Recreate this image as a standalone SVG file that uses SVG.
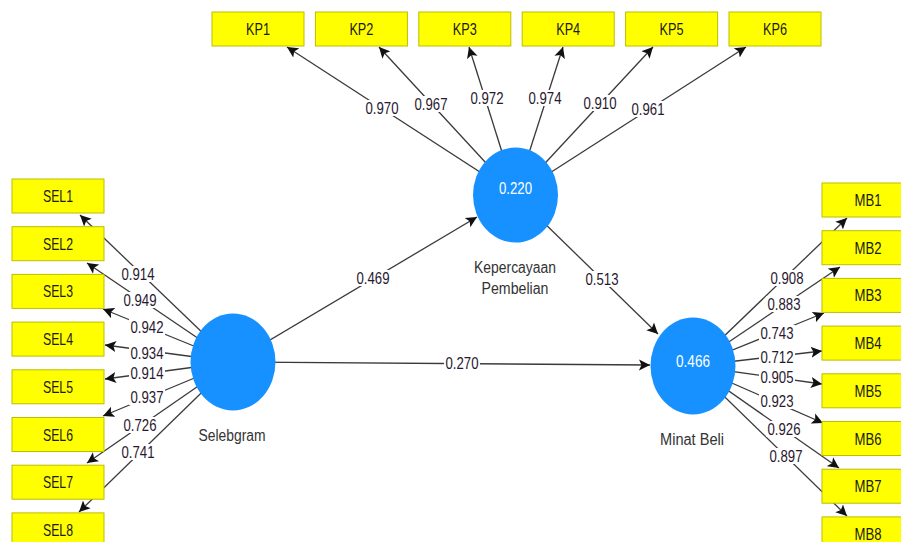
<svg xmlns="http://www.w3.org/2000/svg" width="901" height="542" viewBox="0 0 901 542">
<style>
.ln{stroke:#3a3a3a;stroke-width:1.3;fill:none;marker-end:url(#ah)}
.box{fill:#ffff00;stroke:#bdbd00;stroke-width:1}
.lv{fill:#1691ff}
.t{font-family:"Liberation Sans",Arial,sans-serif;text-anchor:middle}
.bt{font-size:17px;fill:#1a1a1a}
.num{font-size:17px;fill:#2a1830}
.in{font-size:17px;fill:#ffffff}
.nl{font-size:16px;fill:#333333}
.bg{fill:#ffffff}
</style>
<defs>
<marker id="ah" markerWidth="13" markerHeight="12" refX="11" refY="6" orient="auto" markerUnits="userSpaceOnUse">
<path d="M0,0.5 L11,6 L0,11.5 L2.5,6 Z" fill="#111111"/>
</marker>
</defs>
<rect width="901" height="542" fill="#ffffff"/>
<g id="connectors">
<line class="ln" x1="515.5" y1="195" x2="287" y2="47"/>
<line class="ln" x1="515.5" y1="195" x2="379" y2="47"/>
<line class="ln" x1="515.5" y1="195" x2="469" y2="47"/>
<line class="ln" x1="515.5" y1="195" x2="563" y2="47"/>
<line class="ln" x1="515.5" y1="195" x2="653" y2="47"/>
<line class="ln" x1="515.5" y1="195" x2="746" y2="47"/>
<line class="ln" x1="233" y1="362" x2="80" y2="215"/>
<line class="ln" x1="233" y1="362" x2="87" y2="263"/>
<line class="ln" x1="233" y1="362" x2="103" y2="309"/>
<line class="ln" x1="233" y1="362" x2="105" y2="345"/>
<line class="ln" x1="233" y1="362" x2="105" y2="379"/>
<line class="ln" x1="233" y1="362" x2="103" y2="416"/>
<line class="ln" x1="233" y1="362" x2="87" y2="463"/>
<line class="ln" x1="233" y1="362" x2="79" y2="512"/>
<line class="ln" x1="693" y1="366" x2="847" y2="218"/>
<line class="ln" x1="693" y1="366" x2="840" y2="267"/>
<line class="ln" x1="693" y1="366" x2="824" y2="313"/>
<line class="ln" x1="693" y1="366" x2="822" y2="351"/>
<line class="ln" x1="693" y1="366" x2="822" y2="384"/>
<line class="ln" x1="693" y1="366" x2="823" y2="423"/>
<line class="ln" x1="693" y1="366" x2="839" y2="468"/>
<line class="ln" x1="693" y1="366" x2="847" y2="516"/>
<line class="ln" x1="233" y1="362" x2="477" y2="217"/>
<line class="ln" x1="515.5" y1="195" x2="658" y2="334"/>
<line class="ln" x1="233" y1="362" x2="650" y2="365"/>
<g class="t num">
<rect class="bg" x="364" y="100" width="36" height="16"/><text x="382" y="114" textLength="33" lengthAdjust="spacingAndGlyphs">0.970</text>
<rect class="bg" x="413" y="96" width="36" height="16"/><text x="431" y="110" textLength="33" lengthAdjust="spacingAndGlyphs">0.967</text>
<rect class="bg" x="469" y="90" width="36" height="16"/><text x="487" y="104" textLength="33" lengthAdjust="spacingAndGlyphs">0.972</text>
<rect class="bg" x="527" y="90" width="36" height="16"/><text x="545" y="104" textLength="33" lengthAdjust="spacingAndGlyphs">0.974</text>
<rect class="bg" x="582" y="95" width="36" height="16"/><text x="600" y="109" textLength="33" lengthAdjust="spacingAndGlyphs">0.910</text>
<rect class="bg" x="630" y="101" width="36" height="16"/><text x="648" y="115" textLength="33" lengthAdjust="spacingAndGlyphs">0.961</text>
<rect class="bg" x="120" y="266" width="36" height="16"/><text x="138" y="280" textLength="33" lengthAdjust="spacingAndGlyphs">0.914</text>
<rect class="bg" x="122" y="292" width="36" height="16"/><text x="140" y="306" textLength="33" lengthAdjust="spacingAndGlyphs">0.949</text>
<rect class="bg" x="129" y="319" width="36" height="16"/><text x="147" y="333" textLength="33" lengthAdjust="spacingAndGlyphs">0.942</text>
<rect class="bg" x="129" y="345" width="36" height="16"/><text x="147" y="359" textLength="33" lengthAdjust="spacingAndGlyphs">0.934</text>
<rect class="bg" x="129" y="365" width="36" height="16"/><text x="147" y="379" textLength="33" lengthAdjust="spacingAndGlyphs">0.914</text>
<rect class="bg" x="129" y="389" width="36" height="16"/><text x="147" y="403" textLength="33" lengthAdjust="spacingAndGlyphs">0.937</text>
<rect class="bg" x="122" y="417" width="36" height="16"/><text x="140" y="431" textLength="33" lengthAdjust="spacingAndGlyphs">0.726</text>
<rect class="bg" x="120" y="444" width="36" height="16"/><text x="138" y="458" textLength="33" lengthAdjust="spacingAndGlyphs">0.741</text>
<rect class="bg" x="769" y="270" width="36" height="16"/><text x="787" y="284" textLength="33" lengthAdjust="spacingAndGlyphs">0.908</text>
<rect class="bg" x="766" y="296" width="36" height="16"/><text x="784" y="310" textLength="33" lengthAdjust="spacingAndGlyphs">0.883</text>
<rect class="bg" x="759" y="325" width="36" height="16"/><text x="777" y="339" textLength="33" lengthAdjust="spacingAndGlyphs">0.743</text>
<rect class="bg" x="759" y="349" width="36" height="16"/><text x="777" y="363" textLength="33" lengthAdjust="spacingAndGlyphs">0.712</text>
<rect class="bg" x="759" y="369" width="36" height="16"/><text x="777" y="383" textLength="33" lengthAdjust="spacingAndGlyphs">0.905</text>
<rect class="bg" x="759" y="393" width="36" height="16"/><text x="777" y="407" textLength="33" lengthAdjust="spacingAndGlyphs">0.923</text>
<rect class="bg" x="766" y="421" width="36" height="16"/><text x="784" y="435" textLength="33" lengthAdjust="spacingAndGlyphs">0.926</text>
<rect class="bg" x="768" y="448" width="36" height="16"/><text x="786" y="462" textLength="33" lengthAdjust="spacingAndGlyphs">0.897</text>
<rect class="bg" x="355" y="270" width="36" height="16"/><text x="373" y="284" textLength="33" lengthAdjust="spacingAndGlyphs">0.469</text>
<rect class="bg" x="584" y="271" width="36" height="16"/><text x="602" y="285" textLength="33" lengthAdjust="spacingAndGlyphs">0.513</text>
<rect class="bg" x="444" y="355" width="36" height="16"/><text x="462" y="369" textLength="33" lengthAdjust="spacingAndGlyphs">0.270</text>
</g>
</g>
<g id="KP1"><rect class="box" x="212" y="12" width="92" height="34"/><text class="t bt" x="258" y="35" textLength="24" lengthAdjust="spacingAndGlyphs">KP1</text></g>
<g id="KP2"><rect class="box" x="315.4" y="12" width="92" height="34"/><text class="t bt" x="361.4" y="35" textLength="24" lengthAdjust="spacingAndGlyphs">KP2</text></g>
<g id="KP3"><rect class="box" x="418.8" y="12" width="92" height="34"/><text class="t bt" x="464.8" y="35" textLength="24" lengthAdjust="spacingAndGlyphs">KP3</text></g>
<g id="KP4"><rect class="box" x="522.2" y="12" width="92" height="34"/><text class="t bt" x="568.2" y="35" textLength="24" lengthAdjust="spacingAndGlyphs">KP4</text></g>
<g id="KP5"><rect class="box" x="625.6" y="12" width="92" height="34"/><text class="t bt" x="671.6" y="35" textLength="24" lengthAdjust="spacingAndGlyphs">KP5</text></g>
<g id="KP6"><rect class="box" x="729" y="12" width="92" height="34"/><text class="t bt" x="775" y="35" textLength="24" lengthAdjust="spacingAndGlyphs">KP6</text></g>
<g id="SEL1"><rect class="box" x="12" y="179" width="92" height="34"/><text class="t bt" x="58" y="202" textLength="30" lengthAdjust="spacingAndGlyphs">SEL1</text></g>
<g id="SEL2"><rect class="box" x="12" y="226.7" width="92" height="34"/><text class="t bt" x="58" y="249.7" textLength="30" lengthAdjust="spacingAndGlyphs">SEL2</text></g>
<g id="SEL3"><rect class="box" x="12" y="274.4" width="92" height="34"/><text class="t bt" x="58" y="297.4" textLength="30" lengthAdjust="spacingAndGlyphs">SEL3</text></g>
<g id="SEL4"><rect class="box" x="12" y="322.1" width="92" height="34"/><text class="t bt" x="58" y="345.1" textLength="30" lengthAdjust="spacingAndGlyphs">SEL4</text></g>
<g id="SEL5"><rect class="box" x="12" y="369.8" width="92" height="34"/><text class="t bt" x="58" y="392.8" textLength="30" lengthAdjust="spacingAndGlyphs">SEL5</text></g>
<g id="SEL6"><rect class="box" x="12" y="417.5" width="92" height="34"/><text class="t bt" x="58" y="440.5" textLength="30" lengthAdjust="spacingAndGlyphs">SEL6</text></g>
<g id="SEL7"><rect class="box" x="12" y="465.2" width="92" height="34"/><text class="t bt" x="58" y="488.2" textLength="30" lengthAdjust="spacingAndGlyphs">SEL7</text></g>
<g id="SEL8"><rect class="box" x="12" y="512.9" width="92" height="34"/><text class="t bt" x="58" y="535.9" textLength="30" lengthAdjust="spacingAndGlyphs">SEL8</text></g>
<g id="MB1"><rect class="box" x="822" y="183" width="92" height="34"/><text class="t bt" x="868" y="206" textLength="27" lengthAdjust="spacingAndGlyphs">MB1</text></g>
<g id="MB2"><rect class="box" x="822" y="230.7" width="92" height="34"/><text class="t bt" x="868" y="253.7" textLength="27" lengthAdjust="spacingAndGlyphs">MB2</text></g>
<g id="MB3"><rect class="box" x="822" y="278.4" width="92" height="34"/><text class="t bt" x="868" y="301.4" textLength="27" lengthAdjust="spacingAndGlyphs">MB3</text></g>
<g id="MB4"><rect class="box" x="822" y="326.1" width="92" height="34"/><text class="t bt" x="868" y="349.1" textLength="27" lengthAdjust="spacingAndGlyphs">MB4</text></g>
<g id="MB5"><rect class="box" x="822" y="373.8" width="92" height="34"/><text class="t bt" x="868" y="396.8" textLength="27" lengthAdjust="spacingAndGlyphs">MB5</text></g>
<g id="MB6"><rect class="box" x="822" y="421.5" width="92" height="34"/><text class="t bt" x="868" y="444.5" textLength="27" lengthAdjust="spacingAndGlyphs">MB6</text></g>
<g id="MB7"><rect class="box" x="822" y="469.2" width="92" height="34"/><text class="t bt" x="868" y="492.2" textLength="27" lengthAdjust="spacingAndGlyphs">MB7</text></g>
<g id="MB8"><rect class="box" x="822" y="516.9" width="92" height="34"/><text class="t bt" x="868" y="539.9" textLength="27" lengthAdjust="spacingAndGlyphs">MB8</text></g>
<g id="Selebgram">
<ellipse class="lv" cx="233" cy="362" rx="42.5" ry="48.5"/>
<text class="t nl" x="232" y="441" textLength="67" lengthAdjust="spacingAndGlyphs">Selebgram</text>
</g>
<g id="KepercayaanPembelian">
<ellipse class="lv" cx="515.5" cy="195" rx="42.5" ry="47.5"/>
<text class="t in" x="515.5" y="194" textLength="33" lengthAdjust="spacingAndGlyphs">0.220</text>
<text class="t nl" x="515" y="273" textLength="82" lengthAdjust="spacingAndGlyphs">Kepercayaan</text>
<text class="t nl" x="515" y="294" textLength="67" lengthAdjust="spacingAndGlyphs">Pembelian</text>
</g>
<g id="MinatBeli">
<ellipse class="lv" cx="693" cy="366" rx="42.5" ry="48.5"/>
<text class="t in" x="693" y="367" textLength="34" lengthAdjust="spacingAndGlyphs">0.466</text>
<text class="t nl" x="692" y="445" textLength="64" lengthAdjust="spacingAndGlyphs">Minat Beli</text>
</g>
</svg>
